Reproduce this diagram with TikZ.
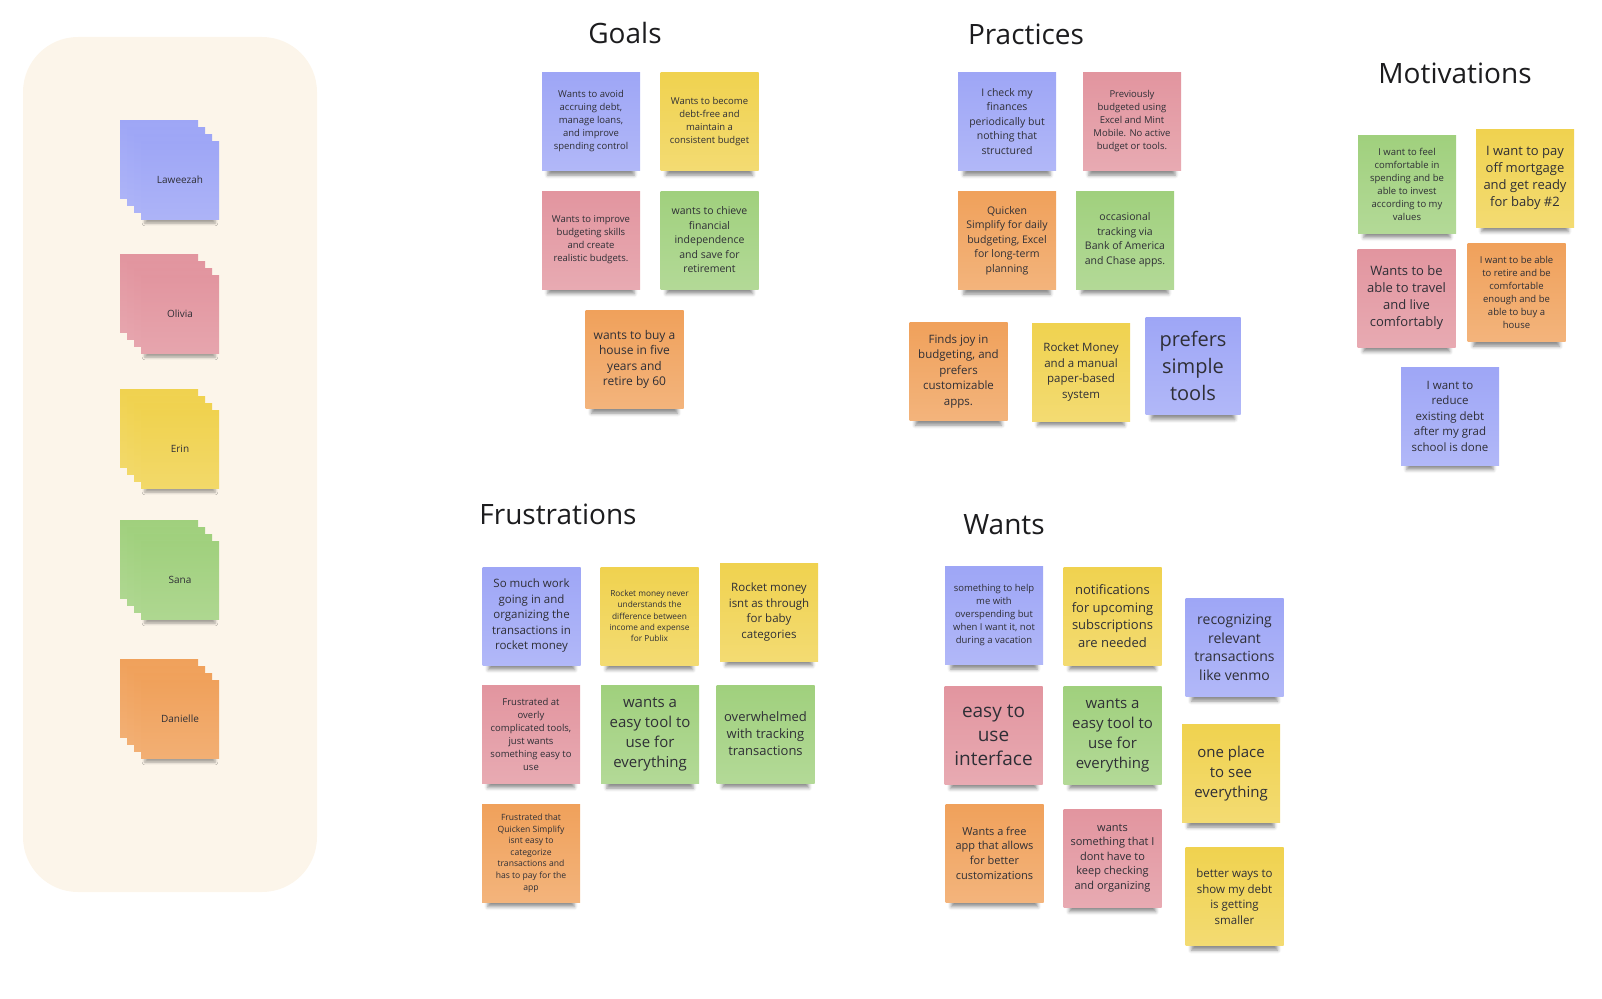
\documentclass[tikz,border=0pt]{standalone}
\usepackage{fontspec}
\setmainfont{Open Sans}
\usepackage{tikz}
\usetikzlibrary{shadows.blur}
\definecolor{noteblue}{HTML}{9EA6F6}
\definecolor{noteyellow}{HTML}{F0D24F}
\definecolor{notepink}{HTML}{E2959F}
\definecolor{notegreen}{HTML}{A0D07D}
\definecolor{noteorange}{HTML}{F0A15B}
\definecolor{bgcream}{HTML}{FCF5EA}
\definecolor{inktext}{HTML}{2F2F36}
\definecolor{headink}{HTML}{1C1C1E}

\begin{document}
\begin{tikzpicture}[x=1pt,y=-1pt,
    sticky/.style={rectangle, minimum width=98pt, minimum height=98pt, inner sep=0pt, align=center, text=inktext,
      top color=#1, bottom color=#1!80!white,
      blur shadow={shadow xshift=0pt, shadow yshift=-12pt, shadow scale=0.88, shadow blur radius=4pt, shadow opacity=45}},
    sheet/.style={rectangle, minimum width=78pt, minimum height=78pt, inner sep=0pt, text=inktext, top color=#1, bottom color=#1!85!white},
    topsheet/.style={sheet=#1, blur shadow={shadow xshift=0pt, shadow yshift=-9pt, shadow scale=0.9, shadow blur radius=3pt, shadow opacity=35}},
    txt/.style 2 args={font=\fontsize{#1}{#2}\selectfont},
    head/.style={anchor=base, text=headink, font=\fontsize{28}{32}\selectfont}]
        \useasboundingbox (0,0) rectangle (1602,998);
        % Draw the panel with the people
        \fill[bgcream, rounded corners=55pt] (23,37) rectangle (317,892);
        \foreach \nm/\c/\y in {Laweezah/noteblue/120, Olivia/notepink/254, Erin/noteyellow/389, Sana/notegreen/520, Danielle/noteorange/659}{
          \foreach \k in {0,1,2}
            \node[sheet=\c] (\nm-\k) at (159+7*\k, \y+39+7*\k) {};
          \node[topsheet=\c, txt={10}{12}] (\nm-3) at (180, \y+60) {\nm};
        }
        % headings
        \node[head] (goals) at (625,44) {Goals};
        \node[head] (practices) at (1026,45) {Practices};
        \node[head] (motivations) at (1455,83) {Motivations};
        \node[head] (frustrations) at (558,524) {Frustrations};
        \node[head] (wants) at (1004,534) {Wants};
        % Goals
        \node[sticky=noteblue, txt={9.5}{13}] (g1) at (591,121.5) {Wants to avoid\\accruing debt,\\manage loans,\\and improve\\spending control};
        \node[sticky=noteyellow, txt={9.5}{13}] (g2) at (709.5,121.5) {Wants to become\\debt-free and\\maintain a\\consistent budget};
        \node[sticky=notepink, txt={9.5}{13}] (g3) at (591,240) {Wants to improve\\budgeting skills\\and create\\realistic budgets.};
        \node[sticky=notegreen, txt={10.5}{14.5}] (g4) at (709.5,240) {wants to chieve\\financial\\independence\\and save for\\retirement};
        \node[sticky=noteorange, txt={12}{15.5}] (g5) at (634.5,359.5) {wants to buy a\\house in five\\years and\\retire by 60};
        % Practices
        \node[sticky=noteblue, txt={10.5}{14.5}] (p1) at (1007,121.5) {I check my\\finances\\periodically but\\nothing that\\structured};
        \node[sticky=notepink, txt={9.5}{13}] (p2) at (1132,121.5) {Previously\\budgeted using\\Excel and Mint\\Mobile. No active\\budget or tools.};
        \node[sticky=noteorange, txt={10.5}{14.5}] (p3) at (1007,240.5) {Quicken\\Simplify for daily\\budgeting, Excel\\for long-term\\planning};
        \node[sticky=notegreen, txt={10.5}{14.5}] (p4) at (1125,240) {occasional\\tracking via\\Bank of America\\and Chase apps.};
        \node[sticky=noteorange, txt={11.5}{15.5}] (p5) at (958.5,371.5) {Finds joy in\\budgeting, and\\prefers\\customizable\\apps.};
        \node[sticky=noteyellow, txt={11.5}{15.5}] (p6) at (1081,372) {Rocket Money\\and a manual\\paper-based\\system};
        \node[sticky=noteblue, txt={20}{27}, minimum width=95pt, minimum height=97pt] (p7) at (1193,366) {prefers\\simple\\tools};
        % Motivations
        \node[sticky=notegreen, txt={9.5}{13}] (m1) at (1407,184) {I want to feel\\comfortable in\\spending and be\\able to invest\\according to my\\values};
        \node[sticky=noteyellow, txt={13}{17}] (m2) at (1525,178) {I want to pay\\off mortgage\\and get ready\\for baby \#2};
        \node[sticky=notepink, txt={13}{17}] (m3) at (1406.5,298) {Wants to be\\able to travel\\and live\\comfortably};
        \node[sticky=noteorange, txt={9.5}{13}] (m4) at (1516.5,292.5) {I want to be able\\to retire and be\\comfortable\\enough and be\\able to buy a\\house};
        \node[sticky=noteblue, txt={11.5}{15.5}] (m5) at (1450,416) {I want to\\reduce\\existing debt\\after my grad\\school is done};
        % Frustrations
        \node[sticky=noteblue, txt={11.5}{15.5}] (f1) at (531.5,616) {So much work\\going in and\\organizing the\\transactions in\\rocket money};
        \node[sticky=noteyellow, txt={8.3}{11.4}] (f2) at (649.5,616) {Rocket money never\\understands the\\difference between\\income and expense\\for Publix};
        \node[sticky=noteyellow, txt={11.5}{15.5}] (f3) at (769,612) {Rocket money\\isnt as through\\for baby\\categories};
        \node[sticky=notepink, txt={9.5}{13}] (f4) at (531,734) {Frustrated at\\overly\\complicated tools,\\just wants\\something easy to\\use};
        \node[sticky=notegreen, txt={15}{20}] (f5) at (650,734.5) {wants a\\easy tool to\\use for\\everything};
        \node[sticky=notegreen, txt={13}{17}] (f6) at (765.5,734) {overwhelmed\\with tracking\\transactions};
        \node[sticky=noteorange, txt={8.6}{11.6}] (f7) at (531,853) {Frustrated that\\Quicken Simplify\\isnt easy to\\categorize\\transactions and\\has to pay for the\\app};
        % Wants
        \node[sticky=noteblue, txt={9.5}{13}] (w1) at (994,615.5) {something to help\\me with\\overspending but\\when I want it, not\\during a vacation};
        \node[sticky=noteyellow, txt={13}{17.4}] (w2) at (1112.5,616) {notifications\\for upcoming\\subscriptions\\are needed};
        \node[sticky=noteblue, txt={14}{18.7}] (w3) at (1234.5,647.5) {recognizing\\relevant\\transactions\\like venmo};
        \node[sticky=notepink, txt={19}{24}] (w4) at (993.5,735) {easy to\\use\\interface};
        \node[sticky=notegreen, txt={15}{20}] (w5) at (1112.5,735) {wants a\\easy tool to\\use for\\everything};
        \node[sticky=noteyellow, txt={15}{20}] (w6) at (1231,773.5) {one place\\to see\\everything};
        \node[sticky=noteorange, txt={11}{14.7}] (w7) at (994.5,853) {Wants a free\\app that allows\\for better\\customizations};
        \node[sticky=notepink, txt={11}{14.6}] (w8) at (1112.5,858) {wants\\something that I\\dont have to\\keep checking\\and organizing};
        \node[sticky=noteyellow, txt={11.5}{15.5}] (w9) at (1234.5,896.5) {better ways to\\show my debt\\is getting\\smaller};
      \end{tikzpicture}
\end{document}
